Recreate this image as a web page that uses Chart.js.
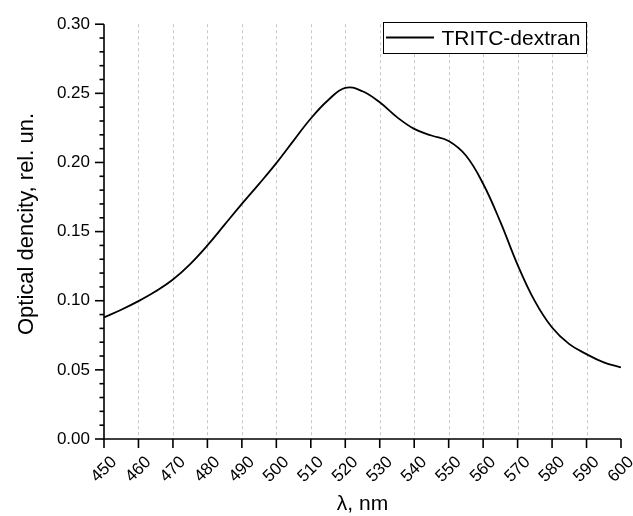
<!DOCTYPE html>
<html>
<head>
<meta charset="utf-8">
<script src="https://cdn.jsdelivr.net/npm/chart.js@4.4.1/dist/chart.umd.min.js"></script>
<style>
  html, body { margin: 0; padding: 0; background: #ffffff; }
  #wrap { width: 633px; height: 516px; }
</style>
</head>
<body>
<div id="wrap"><canvas id="chart" width="633" height="516"></canvas></div>
<script>
// Absorption spectrum of TRITC-dextran
const seriesName = 'TRITC-dextran';
const wavelengths = [450, 455, 460, 465, 470, 475, 480, 485, 490, 495,
                     500, 505, 510, 515, 520, 525, 530, 535, 540, 545,
                     550, 555, 560, 565, 570, 575, 580, 585, 590, 595, 600];
const opticalDensity = [0.0880, 0.0935, 0.0997, 0.1068, 0.1153, 0.1265, 0.1400, 0.1550, 0.1700, 0.1845,
                        0.1995, 0.2158, 0.2318, 0.2450, 0.2540, 0.2515, 0.2435, 0.2328, 0.2243, 0.2195,
                        0.2155, 0.2050, 0.1846, 0.1570, 0.1260, 0.0997, 0.0806, 0.0686, 0.0614, 0.0554, 0.0518];
const xTicks = [450, 460, 470, 480, 490, 500, 510, 520, 530, 540, 550, 560, 570, 580, 590, 600];
const yMajorTicks = [0.00, 0.05, 0.10, 0.15, 0.20, 0.25, 0.30];
const xTitle = 'λ, nm';
const yTitle = 'Optical dencity, rel. un.';

const FONT = "'Liberation Sans', Arial, Helvetica, sans-serif";

const points = wavelengths.map((w, i) => ({ x: w, y: opticalDensity[i] }));

// Axes, ticks, dashed grid, rotated labels and legend box
const decorations = {
  id: 'decorations',
  beforeDatasetsDraw(chart) {
    const { ctx, chartArea: a, scales: { x } } = chart;
    ctx.save();
    ctx.strokeStyle = '#c8c8c8';
    ctx.lineWidth = 1;
    ctx.setLineDash([3, 3]);
    xTicks.forEach(t => {
      if (t === xTicks[0] || t === xTicks[xTicks.length - 1]) return;
      const px = Math.round(x.getPixelForValue(t)) + 0.5;
      ctx.beginPath();
      ctx.moveTo(px, a.top);
      ctx.lineTo(px, a.bottom);
      ctx.stroke();
    });
    ctx.restore();
  },
  afterDraw(chart) {
    const { ctx, chartArea: a, scales: { x, y } } = chart;
    ctx.save();
    ctx.strokeStyle = '#000';
    ctx.lineWidth = 1.6;
    ctx.setLineDash([]);
    // axis lines
    ctx.beginPath();
    ctx.moveTo(a.left, a.top);
    ctx.lineTo(a.left, a.bottom);
    ctx.lineTo(a.right, a.bottom);
    ctx.stroke();
    // y ticks: majors every 0.05, minors every 0.01
    for (let k = 0; k <= 30; k++) {
      const py = y.getPixelForValue(k / 100);
      const len = (k % 5 === 0) ? 9 : 4.5;
      ctx.beginPath();
      ctx.moveTo(a.left, py);
      ctx.lineTo(a.left - len, py);
      ctx.stroke();
    }
    // x ticks
    xTicks.forEach(t => {
      const px = x.getPixelForValue(t);
      ctx.beginPath();
      ctx.moveTo(px, a.bottom);
      ctx.lineTo(px, a.bottom + 9);
      ctx.stroke();
    });
    // rotated x tick labels
    ctx.fillStyle = '#000';
    ctx.font = '17px ' + FONT;
    ctx.textAlign = 'center';
    ctx.textBaseline = 'middle';
    xTicks.forEach(t => {
      const px = x.getPixelForValue(t);
      ctx.save();
      ctx.translate(px, a.bottom + 30.5);
      ctx.rotate(-Math.PI / 4);
      ctx.fillText(String(t), 0, 0);
      ctx.restore();
    });
    // axis titles
    ctx.font = '21px ' + FONT;
    ctx.textAlign = 'center';
    ctx.textBaseline = 'alphabetic';
    ctx.fillText(xTitle, (a.left + a.right) / 2, 509.5);
    ctx.font = '22px ' + FONT;
    ctx.save();
    ctx.translate(33, 224);
    ctx.rotate(-Math.PI / 2);
    ctx.fillText(yTitle, 0, 0);
    ctx.restore();
    // legend
    const lx = 383, ly = 22, lw = 203, lh = 31;
    ctx.fillStyle = '#fff';
    ctx.fillRect(lx, ly, lw, lh);
    ctx.lineWidth = 1;
    ctx.strokeStyle = '#000';
    ctx.strokeRect(lx + 0.5, ly + 0.5, lw, lh);
    ctx.lineWidth = 1.8;
    ctx.beginPath();
    ctx.moveTo(386, 37.5);
    ctx.lineTo(434, 37.5);
    ctx.stroke();
    ctx.fillStyle = '#000';
    ctx.font = '21px ' + FONT;
    ctx.textAlign = 'left';
    ctx.textBaseline = 'alphabetic';
    ctx.fillText(chart.data.datasets[0].label, 441.5, 45);
    ctx.restore();
  }
};

new Chart(document.getElementById('chart'), {
  type: 'line',
  data: {
    datasets: [{
      label: seriesName,
      data: points,
      borderColor: '#000',
      borderWidth: 1.8,
      pointRadius: 0,
      fill: false,
      tension: 0.4
    }]
  },
  options: {
    responsive: false,
    animation: false,
    devicePixelRatio: 1,
    layout: { padding: { top: 21, right: 12, left: 0, bottom: 0 } },
    plugins: { legend: { display: false }, tooltip: { enabled: false } },
    scales: {
      x: {
        type: 'linear',
        min: 450,
        max: 600,
        grid: { display: false },
        border: { display: false },
        ticks: { display: false },
        afterFit(scale) { scale.height = 77; }
      },
      y: {
        type: 'linear',
        min: 0,
        max: 0.3,
        grid: { display: false, drawTicks: false },
        border: { display: false },
        afterBuildTicks(scale) { scale.ticks = yMajorTicks.map(v => ({ value: v })); },
        ticks: {
          padding: 14,
          color: '#000',
          font: { family: FONT, size: 17 },
          callback: v => Number(v).toFixed(2)
        },
        afterFit(scale) { scale.width = 104; }
      }
    }
  },
  plugins: [decorations]
});
</script>
</body>
</html>
